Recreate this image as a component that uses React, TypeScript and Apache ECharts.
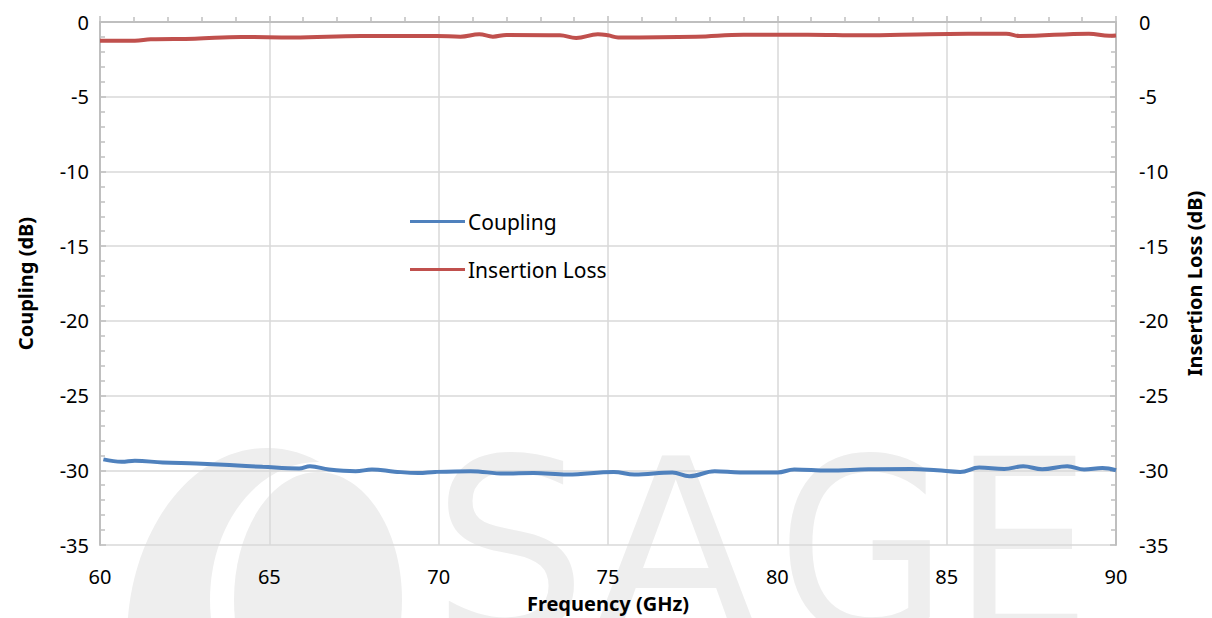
import React, { useEffect, useRef } from "react";
import * as echarts from "echarts";

const couplingFreq = [60.1, 60.64, 61.03, 61.85, 62.84, 63.82, 64.8, 65.88, 66.2, 66.76, 67.55, 68.03, 68.7, 69.4, 69.9, 70.94, 71.94, 72.8, 73.8, 75.17, 75.78, 76.9, 77.4, 78.15, 78.9, 80.0, 80.5, 81.5, 82.7, 83.97, 84.72, 85.4, 85.96, 86.7, 87.26, 87.82, 88.56, 89.06, 89.6, 90];
const couplingDb = [-29.27, -29.43, -29.36, -29.48, -29.55, -29.65, -29.77, -29.88, -29.73, -29.95, -30.06, -29.95, -30.09, -30.18, -30.11, -30.06, -30.22, -30.18, -30.29, -30.11, -30.29, -30.15, -30.4, -30.06, -30.15, -30.15, -29.95, -30.02, -29.93, -29.91, -30.0, -30.11, -29.82, -29.91, -29.73, -29.93, -29.73, -29.95, -29.85, -30.0];

const lossFreq = [60, 61.03, 61.5, 62.8, 64.17, 65.7, 67.7, 69.94, 70.64, 71.2, 71.6, 72.0, 73.58, 74.06, 74.7, 75.0, 75.3, 77.6, 79.0, 80.9, 82.5, 84.5, 86.76, 87.15, 89.2, 89.8, 90];
const lossDb = [-1.25, -1.25, -1.16, -1.12, -1.0, -1.03, -0.94, -0.94, -0.98, -0.82, -0.98, -0.87, -0.89, -1.07, -0.82, -0.89, -1.03, -0.98, -0.85, -0.85, -0.89, -0.82, -0.78, -0.94, -0.78, -0.92, -0.9];

const xTicks = { min: 60, max: 90, step: 5 };
const yTicks = { min: -35, max: 0, step: 5 };
const seriesNames = ["Coupling", "Insertion Loss"];
const watermarkLetters = ["S", "A", "G", "E"];

const FONT = "Noto Sans";
const WM = "#eeeeee";

export default function App() {
  const ref = useRef<HTMLDivElement>(null);
  useEffect(() => {
    const chart = echarts.init(ref.current!, null, { renderer: "svg" });
    const letterX = [432, 592, 777, 952];
    const letterScale = [1, 1, 0.9, 0.9];
    const axisLine = { show: true, lineStyle: { color: "#bfbfbf", width: 2 } };
    const tick = { show: true, inside: true, length: 6, lineStyle: { color: "#bfbfbf", width: 1.5 } };
    const minor = { show: true, splitNumber: 5, length: 5, lineStyle: { color: "#bfbfbf", width: 1.5 } };
    const nameStyle = { fontFamily: FONT, fontWeight: "bold" as const, fontSize: 20, color: "#000" };
    const labelStyle = { fontFamily: FONT, fontSize: 20, color: "#000" };
    chart.setOption({
      animation: false,
      backgroundColor: "#fff",
      graphic: [
        { type: "ellipse", z: -10, shape: { cx: 267, cy: 640, rx: 140, ry: 192 }, style: { fill: WM } },
        { type: "ellipse", z: -9, shape: { cx: 318, cy: 600, rx: 108, ry: 138 }, style: { fill: "#fff" } },
        { type: "ellipse", z: -8, shape: { cx: 318, cy: 600, rx: 84, ry: 128 }, style: { fill: WM } },
        ...watermarkLetters.map((t, i) => ({
          type: "text",
          z: -10,
          x: letterX[i],
          y: 427,
          scaleX: letterScale[i],
          style: { text: t, fill: WM, fontFamily: "DejaVu Sans", fontSize: 245, verticalAlign: "top", align: "left" },
        })),
      ],
      grid: { left: 100, right: 90, top: 22, bottom: 73, containLabel: false },
      legend: {
        data: seriesNames,
        orient: "vertical",
        left: 405,
        top: 206,
        itemWidth: 55,
        itemHeight: 3,
        itemGap: 27,
        icon: "rect",
        textStyle: { fontFamily: FONT, fontSize: 21, color: "#000", padding: [0, 0, 0, -2] },
      },
      xAxis: {
        type: "value",
        min: xTicks.min,
        max: xTicks.max,
        interval: xTicks.step,
        name: "Frequency (GHz)",
        nameLocation: "middle",
        nameGap: 48,
        nameTextStyle: nameStyle,
        axisLine,
        axisTick: tick,
        minorTick: minor,
        axisLabel: { ...labelStyle, margin: 21 },
        splitLine: { show: true, lineStyle: { color: "#d9d9d9", width: 1.5 } },
      },
      yAxis: [
        {
          type: "value",
          position: "left",
          min: yTicks.min,
          max: yTicks.max,
          interval: yTicks.step,
          name: "Coupling (dB)",
          nameLocation: "middle",
          nameRotate: 90,
          nameGap: 65,
          nameTextStyle: nameStyle,
          axisLine,
          axisTick: tick,
          minorTick: minor,
          axisLabel: { ...labelStyle, margin: 11 },
          splitLine: { show: true, lineStyle: { color: "#d9d9d9", width: 1.5 } },
        },
        {
          type: "value",
          position: "right",
          min: yTicks.min,
          max: yTicks.max,
          interval: yTicks.step,
          name: "Insertion Loss (dB)",
          nameLocation: "middle",
          nameRotate: 90,
          nameGap: 68,
          nameTextStyle: nameStyle,
          axisLine,
          axisTick: tick,
          minorTick: minor,
          axisLabel: { ...labelStyle, margin: 23 },
          splitLine: { show: false },
        },
      ],
      series: [
        {
          name: seriesNames[0],
          type: "line",
          yAxisIndex: 0,
          smooth: 0.4,
          showSymbol: false,
          symbol: "none",
          color: "#4f81bd",
          lineStyle: { color: "#4f81bd", width: 4 },
          data: couplingFreq.map((f, i) => [f, couplingDb[i]]),
        },
        {
          name: seriesNames[1],
          type: "line",
          yAxisIndex: 1,
          smooth: 0.4,
          showSymbol: false,
          symbol: "none",
          color: "#c0504d",
          lineStyle: { color: "#c0504d", width: 4 },
          data: lossFreq.map((f, i) => [f, lossDb[i]]),
        },
      ],
    });
    return () => chart.dispose();
  }, []);
  return <div ref={ref} style={{ position: "fixed", left: 0, top: 0, width: 1212, height: 618 }} />;
}
